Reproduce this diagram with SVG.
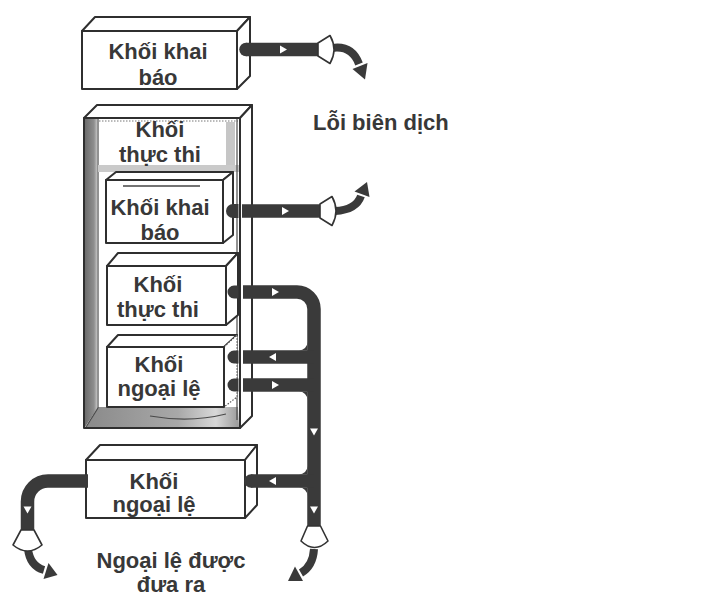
<svg xmlns="http://www.w3.org/2000/svg" width="713" height="599" viewBox="0 0 713 599">
<defs>
<style>
.face{fill:#ffffff;stroke:#2f2f2f;stroke-width:2;stroke-linejoin:round}
.thin{fill:none;stroke:#4a4a4a;stroke-width:1.2}
.lbl{font-family:"Liberation Sans",Arial,Helvetica,sans-serif;font-weight:bold;font-size:22px;fill:#383838;text-anchor:middle}
.pipe{fill:none;stroke:#3a3a3a;stroke-width:13.5;stroke-linecap:butt;stroke-linejoin:round}
.dark{fill:#3a3a3a}
.curve{fill:none;stroke:#3a3a3a;stroke-width:8;stroke-linecap:butt}
.tri{fill:#ffffff}
.cone{fill:#ffffff;stroke:#333333;stroke-width:1.6;stroke-linejoin:round}
</style>
<linearGradient id="wall" x1="0" y1="0" x2="1" y2="0">
<stop offset="0" stop-color="#6c6c6c"/>
<stop offset="0.75" stop-color="#8f8f8f"/>
<stop offset="1" stop-color="#c2c2c2"/>
</linearGradient>
<linearGradient id="floor" x1="0" y1="0" x2="1" y2="0">
<stop offset="0" stop-color="#8a8a8a"/>
<stop offset="0.6" stop-color="#a8a8a8"/>
<stop offset="0.85" stop-color="#d8d8d8"/>
<stop offset="1" stop-color="#9a9a9a"/>
</linearGradient>
</defs>
<rect x="0" y="0" width="713" height="599" fill="#ffffff"/>

<!-- top declaration block -->
<g id="khoi-khai-bao">
<polygon class="face" points="82,31 95,17 250,17 237,31"/>
<polygon class="face" points="237,31 250,17 250,76 237,89"/>
<rect class="face" x="82" y="31" width="155" height="58"/>
<text class="lbl" x="158" y="59">Khối khai</text>
<text class="lbl" x="158" y="85">báo</text>
</g>

<!-- container: execution block -->
<g id="khoi-thuc-thi">
<polygon class="face" points="84,118 97,105 252,105 240,118"/>
<polygon class="face" points="240,118 252,105 252,416 240,428"/>
<rect class="face" x="84" y="118" width="156" height="310"/>
<polygon points="85,119 97,119 97,409 85,427" fill="url(#wall)"/>
<polygon points="86,427 98,407 238,407 239,427" fill="url(#floor)"/>
<line class="thin" x1="98" y1="119" x2="98" y2="408"/>
<line x1="99" y1="121" x2="238" y2="121" stroke="#777" stroke-width="1" stroke-dasharray="1.5 1.5"/>
<rect x="226" y="122" width="9" height="44" fill="#c6c6c6"/>
<rect x="98" y="165" width="141" height="7" fill="#cacaca"/>
<line class="thin" x1="237" y1="119" x2="237" y2="420"/>
<path class="thin" d="M150 416 Q190 423 226 414"/>
<line class="thin" x1="86" y1="427" x2="98" y2="408"/>
<text class="lbl" x="160" y="137">Khối</text>
<text class="lbl" x="160" y="162">thực thi</text>
</g>

<g id="khoi-khai-bao-trong">
<polygon class="face" points="106,180 116,172 233,172 223,180"/>
<polygon class="face" points="223,180 233,172 233,235 223,243"/>
<rect class="face" x="106" y="180" width="117" height="63"/>
<line x1="123" y1="186" x2="200" y2="186" stroke="#444" stroke-width="1.5"/>
<text class="lbl" x="160" y="215">Khối khai</text>
<text class="lbl" x="160" y="240">báo</text>
</g>

<g id="khoi-thuc-thi-trong">
<polygon class="face" points="107,266 118,253 238,253 226,266"/>
<polygon class="face" points="226,266 238,253 238,315 226,325"/>
<rect class="face" x="107" y="266" width="119" height="59"/>
<text class="lbl" x="158" y="292">Khối</text>
<text class="lbl" x="158" y="317">thực thi</text>
</g>

<g id="khoi-ngoai-le-trong">
<polygon class="face" points="107,347 118,335 237,335 224,347"/>
<polygon points="224,347 237,335 237,397 224,407" fill="#ffffff" stroke="#555" stroke-width="1.2" stroke-dasharray="1.5 1.5"/>
<rect class="face" x="107" y="347" width="117" height="60"/>
<text class="lbl" x="159" y="372">Khối</text>
<text class="lbl" x="159" y="396">ngoại lệ</text>
</g>

<!-- bottom exception block -->
<g id="khoi-ngoai-le">
<polygon class="face" points="86,460 100,445 257,445 245,460"/>
<polygon class="face" points="245,460 257,445 257,505 245,518"/>
<rect class="face" x="86" y="460" width="159" height="58"/>
<text class="lbl" x="154" y="489">Khối</text>
<text class="lbl" x="154" y="512">ngoại lệ</text>
</g>

<!-- connectors -->
<g id="connectors">
<!-- pipe 1: top declaration block to compile error -->
<circle class="dark" cx="246" cy="49.5" r="6.75"/>
<path class="pipe" d="M246 49.5 H319"/>
<polygon class="tri" points="280,45.5 287,49.5 280,53.5"/>
<path class="curve" d="M332 48 Q352 45 359 64"/>
<polygon class="dark" points="352.5,69 367.5,63 365,79.5"/>
<path class="cone" d="M318 43 L330 35.5 Q338 49.5 330 63.5 L318 56 Z"/>

<!-- pipe 2: inner declaration block to compile error -->
<path class="dark" d="M238.5 204 H233 A7 7 0 0 0 233 218 H238.5 Z"/>
<path class="pipe" d="M242 211 H321" stroke-width="14"/>
<polygon class="tri" points="282,207 289,211 282,215"/>
<path class="curve" d="M335 211 Q356 210 361 196"/>
<polygon class="dark" points="354.5,191.5 369.5,197 367,182"/>
<path class="cone" d="M320 204 L332 196.5 Q340 211 332 225.5 L320 218 Z"/>

<!-- stubs for pipes 3,4,5 -->
<path class="dark" d="M238.5 285.5 H234 A6.5 6.5 0 0 0 234 298.5 H238.5 Z"/>
<path class="dark" d="M238.5 350.5 H234 A6.5 6.5 0 0 0 234 363.5 H238.5 Z"/>
<path class="dark" d="M238.5 378.5 H234 A6.5 6.5 0 0 0 234 391.5 H238.5 Z"/>

<!-- pipe 3 + vertical bus -->
<path class="pipe" d="M243 292 H297 A17 17 0 0 1 314 309 V527"/>
<!-- pipe 4 -->
<path class="pipe" d="M243 357 H314"/>
<path class="dark" d="M299 350.5 A8.5 8.5 0 0 0 307.5 342 L307.5 350.5 Z"/>
<!-- pipe 5 -->
<path class="pipe" d="M243 385 H314"/>
<path class="dark" d="M299 391.5 A8.5 8.5 0 0 1 307.5 400 L307.5 391.5 Z"/>
<!-- pipe 6 from bottom exception block -->
<circle class="dark" cx="251" cy="481" r="6.75"/>
<path class="pipe" d="M251 481 H314"/>
<path class="dark" d="M299 474.5 A8.5 8.5 0 0 0 307.5 466 L307.5 474.5 Z"/>
<path class="dark" d="M299 487.5 A8.5 8.5 0 0 1 307.5 496 L307.5 487.5 Z"/>

<polygon class="tri" points="272,288 279,292 272,296"/>
<polygon class="tri" points="276,353 269,357 276,361"/>
<polygon class="tri" points="272,381 279,385 272,389"/>
<polygon class="tri" points="276,477 269,481 276,485"/>
<polygon class="tri" points="310,428.5 318,428.5 314,435.5"/>
<polygon class="tri" points="310,506.5 318,506.5 314,513.5"/>

<!-- bus bottom exit -->
<path class="curve" d="M314 549 Q313 566 301 573"/>
<polygon class="dark" points="303,581 295,566.5 288,581"/>
<path class="cone" d="M307.5 526 L301 541 Q314.5 554 328 541 L320.5 526 Z"/>

<!-- left exit from bottom exception block -->
<path class="pipe" d="M88 481 H48 A20.5 20.5 0 0 0 27.5 501.5 V531"/>
<polygon class="tri" points="23.5,506.5 31.5,506.5 27.5,513.5"/>
<path class="curve" d="M28 549 Q30 566 44 570"/>
<polygon class="dark" points="43.5,579 48.5,563 57.5,575"/>
<path class="cone" d="M21 530 L13 545 Q27.5 557 42 545 L34 530 Z"/>
</g>

<g id="loi-bien-dich">
<text class="lbl" x="313" y="130" style="text-anchor:start">Lỗi biên dịch</text>
</g>
<g id="ngoai-le-duoc-dua-ra">
<text class="lbl" x="171" y="568">Ngoại lệ được</text>
<text class="lbl" x="171" y="592">đưa ra</text>
</g>
</svg>
